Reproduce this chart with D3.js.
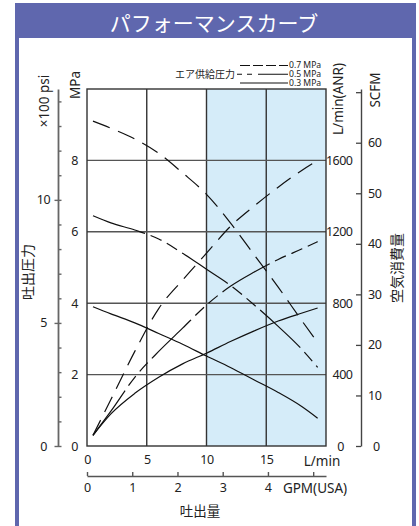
<!DOCTYPE html>
<html>
<head>
<meta charset="utf-8">
<script src="https://cdn.jsdelivr.net/npm/d3@7"></script>
<style>
  body { margin: 0; background: #fff; }
  svg { display: block; font-family: 'Noto Sans', 'Noto Sans CJK JP', sans-serif; }
  .jp { font-family: 'Noto Sans CJK JP', sans-serif; }
</style>
</head>
<body>
<div class="chart"></div>
<script>
  // 吐出量 (L/min) と 吐出圧力 (MPa)
  let flow = [0.5, 2, 4, 6, 8, 10, 12, 14, 16, 18, 19.3]
  let press07 = [9.1, 8.9, 8.6, 8.2, 7.65, 7.05, 6.25, 5.35, 4.45, 3.5, 2.9]
  let press05 = [6.45, 6.25, 6.05, 5.8, 5.4, 4.95, 4.5, 3.95, 3.35, 2.7, 2.2]
  let press03 = [3.9, 3.7, 3.45, 3.15, 2.85, 2.52, 2.2, 1.85, 1.5, 1.1, 0.78]
  // 空気消費量 L/min(ANR)
  let air07 = [60, 260, 530, 770, 930, 1080, 1230, 1345, 1450, 1545, 1600]
  let air05 = [60, 195, 385, 530, 660, 790, 895, 975, 1045, 1105, 1145]
  let air03 = [60, 180, 295, 385, 460, 520, 585, 645, 700, 745, 773]

  let mpaTicks = [0, 2, 4, 6, 8]
  let anrTicks = [0, 400, 800, 1200, 1600]
  let psiTicks = d3.range(0, 15)
  let psiLabels = [0, 5, 10]
  let scfmTicks = d3.range(0, 80, 10)
  let flowTicks = [0, 5, 10, 15]
  let gpmTicks = [0, 1, 2, 3, 4, 5]
  let legendItems = ['0.7 MPa', '0.5 MPa', '0.3 MPa']

  let W = 419, H = 526
  let purple = '#5f67ae'
  let svg = d3.select('.chart').append('svg')
    .attr('width', W)
    .attr('height', H)

  // 枠とタイトル
  svg.append('rect')
    .attr('x', 15).attr('y', 3).attr('width', 401).attr('height', 530)
    .style('fill', purple)
  svg.append('rect')
    .attr('x', 19).attr('y', 38).attr('width', 393).attr('height', 500)
    .style('fill', '#fff')
  svg.append('text')
    .attr('class', 'jp')
    .attr('x', 214).attr('y', 31)
    .attr('text-anchor', 'middle')
    .style('font-size', '21px')
    .style('fill', '#fff')
    .text('パフォーマンスカーブ')

  let x = d3.scaleLinear().domain([0, 20]).range([87, 326])
  let yP = d3.scaleLinear().domain([0, 10]).range([446, 89])
  let yA = d3.scaleLinear().domain([0, 2000]).range([446, 89])
  let yPsi = d3.scaleLinear().domain([0, 10 * 145.038 / 100]).range([446, 89])
  let yScfm = d3.scaleLinear().domain([0, 2000 / 28.3168]).range([446, 89])
  let xGpm = d3.scaleLinear().domain([0, 20 / 3.78541]).range([87, 326])

  // 青い領域
  svg.append('rect')
    .attr('x', x(10)).attr('y', yP(10))
    .attr('width', x(20) - x(10)).attr('height', yP(0) - yP(10))
    .style('fill', '#d5ecf9')

  // グリッド
  let grid = svg.append('g').style('stroke', '#333').style('stroke-width', 1.4)
  grid.selectAll('.vline').data([5, 10, 15]).enter()
    .append('line')
    .attr('x1', d => x(d)).attr('x2', d => x(d))
    .attr('y1', yP(0)).attr('y2', yP(10))
  grid.selectAll('.hline').data([2, 4, 6, 8]).enter()
    .append('line')
    .style('stroke', '#555')
    .attr('x1', x(0)).attr('x2', x(20))
    .attr('y1', d => yP(d)).attr('y2', d => yP(d))
  svg.append('rect')
    .attr('x', x(0)).attr('y', yP(10))
    .attr('width', x(20) - x(0)).attr('height', yP(0) - yP(10))
    .style('fill', 'none').style('stroke', '#333').style('stroke-width', 1.4)

  // 曲線
  let pressLine = d3.line().x((d, i) => x(flow[i])).y(d => yP(d)).curve(d3.curveMonotoneX)
  let airLine = d3.line().x((d, i) => x(flow[i])).y(d => yA(d)).curve(d3.curveMonotoneX)
  let curves = [
    { data: press07, gen: pressLine, dash: '18,9' },
    { data: press05, gen: pressLine, dash: '55,6,12,6,12,6' },
    { data: press03, gen: pressLine, dash: null },
    { data: air07, gen: airLine, dash: '17,9' },
    { data: air05, gen: airLine, dash: '55,6,12,6,12,6' },
    { data: air03, gen: airLine, dash: null }
  ]
  svg.append('g').selectAll('path').data(curves).enter()
    .append('path')
    .attr('d', d => d.gen(d.data))
    .style('fill', 'none')
    .style('stroke', '#111')
    .style('stroke-width', 1.2)
    .style('stroke-dasharray', d => d.dash)

  let tickFont = g => {
    g.selectAll('text').style('font-size', '12.5px').style('fill', '#222')
      .style('letter-spacing', '-0.5px')
      .style('font-family', "'Noto Sans', sans-serif")
    g.select('.domain').remove()
  }

  // 左 MPa
  svg.append('g')
    .attr('transform', `translate(${x(0)},0)`)
    .call(d3.axisLeft(yP).tickValues(mpaTicks).tickSize(0).tickPadding(9))
    .call(tickFont)
    .selectAll('text').attr('x', -12.5).attr('text-anchor', 'middle')

  // psi
  let psiAxis = svg.append('g')
    .attr('transform', 'translate(58,0)')
    .call(d3.axisRight(yPsi).tickValues(psiTicks).tickSize(3.5).tickSizeOuter(0).tickFormat(''))
  psiAxis.select('.domain').style('stroke', '#666').style('stroke-width', 1.8)
  psiAxis.selectAll('.tick line').style('stroke', '#666').style('stroke-width', 1.4)
  svg.append('g')
    .attr('transform', 'translate(58,0)')
    .call(d3.axisLeft(yPsi).tickValues(psiLabels).tickSize(3.5).tickPadding(6))
    .call(tickFont)
    .call(g => g.selectAll('.tick line').style('stroke', '#666').style('stroke-width', 1.4))
    .selectAll('text').attr('x', -14.5).attr('text-anchor', 'middle')

  // 右 L/min(ANR)
  svg.append('g')
    .attr('transform', `translate(${x(20)},0)`)
    .call(d3.axisRight(yA).tickValues(anrTicks).tickSize(0).tickFormat(d3.format('d')))
    .call(tickFont)
    .selectAll('text')
    .attr('x', d => d === 0 ? 14.5 : 26.5)
    .attr('text-anchor', d => d === 0 ? 'middle' : 'end')

  // SCFM
  let scfmAxis = svg.append('g')
    .attr('transform', 'translate(361,0)')
    .call(d3.axisLeft(yScfm).tickValues(scfmTicks).tickSize(5).tickSizeOuter(0)
      .tickFormat(d => d < 70 ? d : ''))
  scfmAxis.select('.domain').style('stroke', '#444').style('stroke-width', 1.4)
  scfmAxis.selectAll('.tick line').style('stroke', '#444').style('stroke-width', 1.3)
  scfmAxis.selectAll('text')
    .style('font-size', '12.5px').style('fill', '#222').style('letter-spacing', '-0.5px')
    .style('font-family', "'Noto Sans', sans-serif")
    .attr('x', d => d === 0 ? 12 : 7)
    .attr('text-anchor', 'start')

  // 下 L/min
  svg.append('g')
    .attr('transform', `translate(0,${yP(0)})`)
    .call(d3.axisBottom(x).tickValues(flowTicks).tickSize(0).tickPadding(9))
    .call(tickFont)

  // GPM
  let gpmAxis = svg.append('g')
    .attr('transform', 'translate(0,476)')
    .call(d3.axisBottom(xGpm).tickValues(gpmTicks).tickSize(-4).tickSizeOuter(0).tickPadding(7)
      .tickFormat(d => d < 5 ? d : ''))
  gpmAxis.select('.domain').style('stroke', '#555').style('stroke-width', 1.6)
  gpmAxis.selectAll('.tick line').style('stroke', '#555').style('stroke-width', 1.4)
  gpmAxis.selectAll('text')
    .style('font-size', '12.5px').style('fill', '#222')
    .style('font-family', "'Noto Sans', sans-serif")

  // 軸ラベル
  let label = (txt, px, py, rot, size, cls) => svg.append('text')
    .attr('class', cls || null)
    .attr('transform', `translate(${px},${py}) rotate(${rot})`)
    .attr('text-anchor', 'middle')
    .attr('dy', '0.35em')
    .style('font-size', size + 'px')
    .style('fill', '#222')
    .text(txt)
  label('×100 psi', 44, 101, -90, 13.5)
  label('MPa', 75, 85, -90, 13.5)
  label('吐出圧力', 28, 272, -90, 14, 'jp')
  label('L/min(ANR)', 338, 99, -90, 13.5)
  label('SCFM', 375, 90, -90, 13.5)
  label('空気消費量', 397, 268, -90, 14, 'jp')
  label('L/min', 322, 461, 0, 13.5)
  label('GPM(USA)', 315, 488, 0, 13.5)
  label('吐出量', 200, 511, 0, 13.5, 'jp')

  // 凡例
  let legendY = d3.scalePoint().domain(legendItems).range([65.5, 83])
  let legendDash = ['10,3', '5,5,5,6,30,0', null]
  let legend = svg.append('g')
  legend.selectAll('line').data(legendItems).enter()
    .append('line')
    .attr('x1', (d, i) => i === 1 ? 237 : 240).attr('x2', 288)
    .attr('y1', d => legendY(d)).attr('y2', d => legendY(d))
    .style('stroke', '#111').style('stroke-width', 1.2)
    .style('stroke-dasharray', (d, i) => legendDash[i])
  legend.selectAll('text').data(legendItems).enter()
    .append('text')
    .attr('x', 289).attr('y', d => legendY(d))
    .attr('dy', '0.33em')
    .style('font-size', '8.6px').style('fill', '#222')
    .text(d => d)
  svg.append('text')
    .attr('class', 'jp')
    .attr('x', 235).attr('y', legendY('0.5 MPa'))
    .attr('dy', '0.35em')
    .attr('text-anchor', 'end')
    .style('font-size', '10px').style('fill', '#222')
    .text('エア供給圧力')
</script>
</body>
</html>
